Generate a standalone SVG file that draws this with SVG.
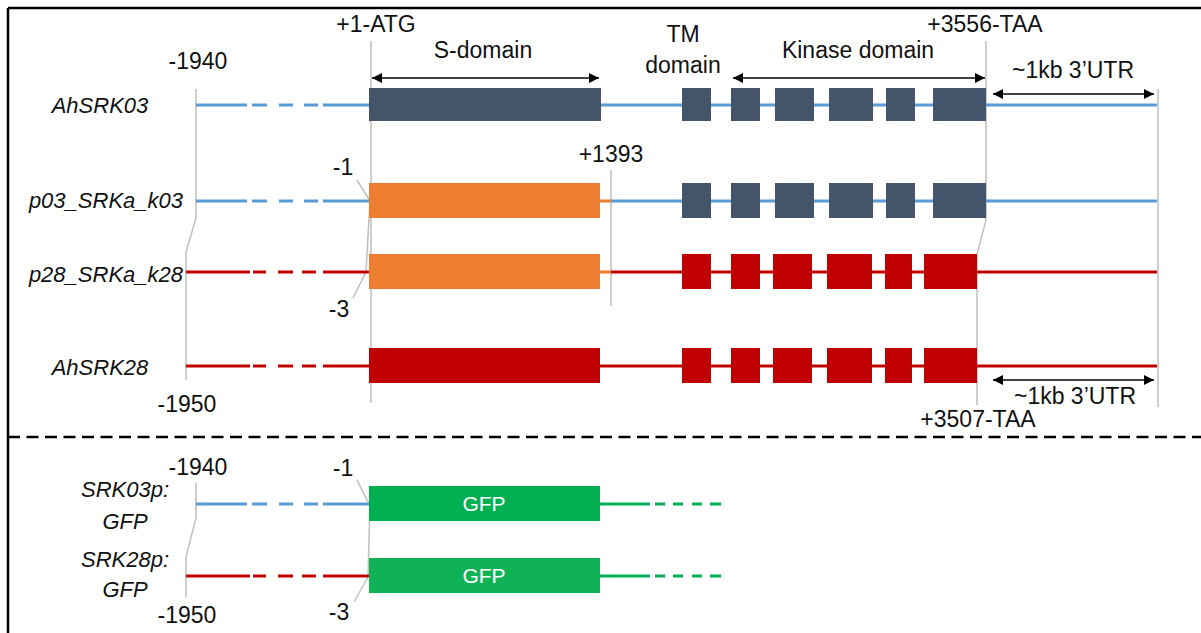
<svg xmlns="http://www.w3.org/2000/svg" width="1201" height="633" viewBox="0 0 1201 633">
<style>
.t{font-family:"Liberation Sans",Arial,sans-serif;font-size:23px;fill:#111}
.i{font-family:"Liberation Sans",Arial,sans-serif;font-size:22px;font-style:italic;fill:#111}
.g{font-family:"Liberation Sans",Arial,sans-serif;font-size:21px;fill:#fff}
.bl{stroke:#5B9BD5;stroke-width:3;fill:none}
.rd{stroke:#C00000;stroke-width:3;fill:none}
.gr{stroke:#00B050;stroke-width:3;fill:none}
.or{stroke:#ED7D31;stroke-width:3;fill:none}
.gy{stroke:#BFBFBF;stroke-width:1.5;fill:none}
.ar{stroke:#000;stroke-width:1.5;fill:none;marker-start:url(#ah);marker-end:url(#ah)}
.dk{fill:#44546A}
.re{fill:#C00000}
.og{fill:#ED7D31}
</style>
<defs>
<marker id="ah" viewBox="0 0 10 10" refX="10" refY="5" markerWidth="10" markerHeight="10" markerUnits="userSpaceOnUse" orient="auto-start-reverse">
<path d="M0,0 L10,5 L0,10 z" fill="#000"/>
</marker>
</defs>
<rect x="0" y="0" width="1201" height="633" fill="#fff"/>
<g id="frame">
<line x1="8" y1="8" x2="1201" y2="8" stroke="#000" stroke-width="2.5"/>
<line x1="8" y1="8" x2="8" y2="633" stroke="#000" stroke-width="2.5"/>
<line x1="8" y1="437" x2="1201" y2="437" stroke="#000" stroke-width="2.5" stroke-dasharray="12,6.5"/>
</g>
<g id="connectors">
<polyline class="gy" points="196,89 196,218 186,252 186,380"/>
<line class="gy" x1="371" y1="41" x2="371" y2="403"/>
<line class="gy" x1="357" y1="180" x2="370" y2="201"/>
<line class="gy" x1="370" y1="201" x2="366" y2="272"/>
<line class="gy" x1="366" y1="272" x2="353" y2="298"/>
<line class="gy" x1="611" y1="170" x2="611" y2="306"/>
<polyline class="gy" points="986,41 986,220 977,254 977,405"/>
<line class="gy" x1="1158" y1="89" x2="1158" y2="407"/>
<polyline class="gy" points="196,483 196,518 186,557 186,597"/>
<line class="gy" x1="357" y1="480" x2="369" y2="504"/>
<line class="gy" x1="370" y1="505" x2="368" y2="577"/>
<line class="gy" x1="368" y1="577" x2="354" y2="602"/>
<line class="ar" x1="372" y1="78" x2="599" y2="78"/>
<line class="ar" x1="733" y1="78" x2="985" y2="78"/>
<line class="ar" x1="993" y1="94" x2="1154" y2="94"/>
<line class="ar" x1="993" y1="380" x2="1154" y2="380"/>
</g>
<g id="AhSRK03">
<text class="i" x="100" y="113" text-anchor="middle">AhSRK03</text>
<path class="bl" d="M196,105H247M252,105H267M279,105H293M304,105H318M323,105H369M600,105H1157"/>
<rect class="dk" x="369" y="88" width="232" height="33"/>
<rect class="dk" x="682" y="88" width="29" height="33"/>
<rect class="dk" x="731" y="88" width="29" height="33"/>
<rect class="dk" x="775" y="88" width="39" height="33"/>
<rect class="dk" x="829" y="88" width="44" height="33"/>
<rect class="dk" x="886" y="88" width="29" height="33"/>
<rect class="dk" x="933" y="88" width="53" height="33"/>
</g>
<g id="p03_SRKa_k03">
<text class="i" x="183" y="208" text-anchor="end">p03_SRKa_k03</text>
<path class="bl" d="M196,201H247M252,201H267M279,201H293M304,201H318M323,201H369M611,201H1157"/>
<line class="or" x1="600" y1="201" x2="611" y2="201"/>
<rect class="og" x="369" y="183" width="231" height="35"/>
<rect class="dk" x="682" y="183" width="29" height="35"/>
<rect class="dk" x="731" y="183" width="29" height="35"/>
<rect class="dk" x="775" y="183" width="39" height="35"/>
<rect class="dk" x="829" y="183" width="44" height="35"/>
<rect class="dk" x="886" y="183" width="29" height="35"/>
<rect class="dk" x="933" y="183" width="53" height="35"/>
</g>
<g id="p28_SRKa_k28">
<text class="i" x="183" y="282" text-anchor="end">p28_SRKa_k28</text>
<path class="rd" d="M186,272H250M253,272H266M278,272H293M302,272H316M323,272H369M611,272H1157"/>
<line class="or" x1="600" y1="272" x2="611" y2="272"/>
<rect class="og" x="369" y="254" width="231" height="35"/>
<rect class="re" x="682" y="254" width="29" height="35"/>
<rect class="re" x="731" y="254" width="29" height="35"/>
<rect class="re" x="773" y="254" width="39" height="35"/>
<rect class="re" x="827" y="254" width="45" height="35"/>
<rect class="re" x="885" y="254" width="27" height="35"/>
<rect class="re" x="924" y="254" width="53" height="35"/>
</g>
<g id="AhSRK28">
<text class="i" x="100" y="375" text-anchor="middle">AhSRK28</text>
<path class="rd" d="M186,366H250M253,366H266M278,366H293M302,366H316M323,366H369M600,366H1157"/>
<rect class="re" x="369" y="348" width="231" height="35"/>
<rect class="re" x="682" y="348" width="29" height="35"/>
<rect class="re" x="731" y="348" width="29" height="35"/>
<rect class="re" x="773" y="348" width="39" height="35"/>
<rect class="re" x="827" y="348" width="45" height="35"/>
<rect class="re" x="885" y="348" width="27" height="35"/>
<rect class="re" x="924" y="348" width="53" height="35"/>
</g>
<g id="labels">
<text class="t" x="376" y="32" text-anchor="middle">+1-ATG</text>
<text class="t" x="198" y="69" text-anchor="middle">-1940</text>
<text class="t" x="483" y="58" text-anchor="middle">S-domain</text>
<text class="t" x="683" y="42" text-anchor="middle">TM</text>
<text class="t" x="683" y="73" text-anchor="middle">domain</text>
<text class="t" x="858" y="58" text-anchor="middle">Kinase domain</text>
<text class="t" x="985" y="32" text-anchor="middle">+3556-TAA</text>
<text class="t" x="1073" y="78" text-anchor="middle">~1kb 3’UTR</text>
<text class="t" x="611" y="162" text-anchor="middle">+1393</text>
<text class="t" x="343" y="175" text-anchor="middle">-1</text>
<text class="t" x="339" y="317" text-anchor="middle">-3</text>
<text class="t" x="187" y="412" text-anchor="middle">-1950</text>
<text class="t" x="1075" y="404" text-anchor="middle">~1kb 3’UTR</text>
<text class="t" x="978" y="427" text-anchor="middle">+3507-TAA</text>
</g>
<g id="SRK03p_GFP">
<text class="i" x="125" y="497" text-anchor="middle">SRK03p:</text>
<text class="i" x="125" y="529" text-anchor="middle">GFP</text>
<text class="t" x="198" y="475" text-anchor="middle">-1940</text>
<text class="t" x="343" y="476" text-anchor="middle">-1</text>
<path class="bl" d="M196,504H247M252,504H267M279,504H293M304,504H318M323,504H369"/>
<path class="gr" d="M600,504H650M655,504H665M673,504H683M692,504H702M710,504H721"/>
<rect x="369" y="486" width="231" height="35" fill="#00B050"/>
<text class="g" x="484" y="511" text-anchor="middle">GFP</text>
</g>
<g id="SRK28p_GFP">
<text class="i" x="125" y="567" text-anchor="middle">SRK28p:</text>
<text class="i" x="125" y="597" text-anchor="middle">GFP</text>
<text class="t" x="187" y="623" text-anchor="middle">-1950</text>
<text class="t" x="339" y="620" text-anchor="middle">-3</text>
<path class="rd" d="M186,576H250M253,576H266M278,576H293M302,576H316M323,576H369"/>
<path class="gr" d="M600,576H650M655,576H665M673,576H683M692,576H702M710,576H721"/>
<rect x="369" y="558" width="231" height="35" fill="#10B256"/>
<text class="g" x="484" y="583" text-anchor="middle">GFP</text>
</g>
</svg>
